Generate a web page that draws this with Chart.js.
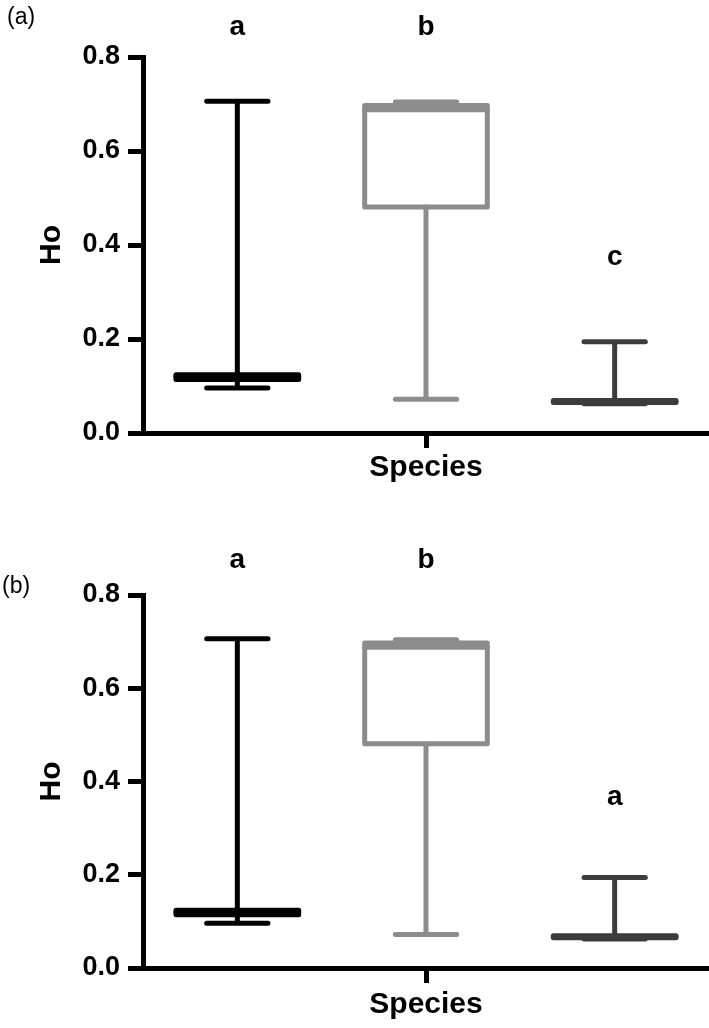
<!DOCTYPE html>
<html>
<head>
<meta charset="utf-8">
<script src="https://cdn.jsdelivr.net/npm/chart.js@4.4.1/dist/chart.umd.min.js"></script>
<style>
  html, body { margin: 0; padding: 0; background: #fff; }
  #wrap { position: relative; width: 709px; height: 1028px; }
  canvas { position: absolute; left: 0; }
</style>
</head>
<body>
<div id="wrap">
  <canvas id="chartA" width="709" height="500" style="top:0"></canvas>
  <canvas id="chartB" width="709" height="528" style="top:500px"></canvas>
</div>
<script>
// box plot values (same for both panels)
var species = ['Species 1', 'Species 2', 'Species 3'];
var minVals = [0.096, 0.072, 0.062];
var q1Vals = [0.114, 0.481, 0.065];
var medVals = [0.120, 0.688, 0.067];
var q3Vals = [0.124, 0.697, 0.069];
var maxVals = [0.706, 0.704, 0.194];
var yTicks = [0, 0.2, 0.4, 0.6, 0.8];

// significance letters and where they sit (in Ho units)
var lettersA = ['a', 'b', 'c'];
var letterPosA = [0.847, 0.847, 0.357];
var lettersB = ['a', 'b', 'a'];
var letterPosB = [0.858, 0.858, 0.350];

var boxColors = ['#000000', '#8c8c8c', '#3c3c3c'];
var FONT = '"Liberation Sans", Arial, Helvetica, sans-serif';

function boxPlugin(letters, letterPos, tag, tagX, tagY) {
    return {
        id: 'boxPlot',
        afterDatasetsDraw: function (chart) {
            var ctx = chart.ctx;
            var x = chart.scales.x;
            var y = chart.scales.y;
            var bars = chart.getDatasetMeta(0).data;
            ctx.save();
            ctx.lineWidth = 5;
            ctx.lineCap = 'round';
            ctx.lineJoin = 'round';
            bars.forEach(function (bar, i) {
                var half = bar.width / 2;
                var capHalf = half / 2;
                var yMin = y.getPixelForValue(minVals[i]);
                var yQ1 = y.getPixelForValue(q1Vals[i]);
                var yMed = y.getPixelForValue(medVals[i]);
                var yQ3 = y.getPixelForValue(q3Vals[i]);
                var yMax = y.getPixelForValue(maxVals[i]);
                ctx.strokeStyle = boxColors[i];
                // whiskers + caps
                ctx.beginPath();
                ctx.moveTo(bar.x, yQ3); ctx.lineTo(bar.x, yMax);
                ctx.moveTo(bar.x - capHalf, yMax); ctx.lineTo(bar.x + capHalf, yMax);
                ctx.moveTo(bar.x, yQ1); ctx.lineTo(bar.x, yMin);
                ctx.moveTo(bar.x - capHalf, yMin); ctx.lineTo(bar.x + capHalf, yMin);
                ctx.stroke();
                // box
                ctx.strokeRect(bar.x - half, yQ3, half * 2, yQ1 - yQ3);
                // median
                ctx.beginPath();
                ctx.moveTo(bar.x - half, yMed); ctx.lineTo(bar.x + half, yMed);
                ctx.stroke();
            });
            // letters above the boxes
            ctx.fillStyle = '#000';
            ctx.textAlign = 'center';
            ctx.textBaseline = 'alphabetic';
            ctx.font = 'bold 28px ' + FONT;
            letters.forEach(function (l, i) {
                ctx.fillText(l, x.getPixelForValue(i), y.getPixelForValue(letterPos[i]));
            });
            // panel tag
            ctx.textAlign = 'left';
            ctx.font = '23px ' + FONT;
            ctx.fillText(tag, tagX, tagY);
            ctx.restore();
        }
    };
}

function buildPanel(canvasId, letters, letterPos, tag, tagX, tagY, topPad, xAxisHeight, titlePad) {
    var ctx = document.getElementById(canvasId).getContext('2d');
    return new Chart(ctx, {
        type: 'bar',
        data: {
            labels: species,
            datasets: [{
                data: species.map(function (s, i) { return [q1Vals[i], q3Vals[i]]; }),
                backgroundColor: '#ffffff',
                borderWidth: 0,
                barPercentage: 0.65,
                categoryPercentage: 1
            }]
        },
        options: {
            responsive: false,
            animation: false,
            events: [],
            layout: { padding: { top: topPad, right: 0, bottom: 0, left: 0 } },
            plugins: { legend: { display: false }, tooltip: { enabled: false } },
            scales: {
                x: {
                    offset: true,
                    grid: {
                        offset: false,
                        drawOnChartArea: false,
                        tickLength: 15,
                        tickWidth: 5,
                        tickColor: function (c) { return c.index === 1 ? '#000' : 'rgba(0,0,0,0)'; }
                    },
                    border: { display: true, color: '#000', width: 5 },
                    ticks: { display: false },
                    title: {
                        display: true, text: 'Species', color: '#000',
                        font: { family: FONT, size: 30, weight: 'bold' },
                        padding: { top: 0, bottom: titlePad }
                    },
                    afterFit: function (s) { s.height = xAxisHeight; }
                },
                y: {
                    min: 0,
                    max: 0.8,
                    afterBuildTicks: function (s) {
                        s.ticks = yTicks.map(function (v) { return { value: v }; });
                    },
                    ticks: {
                        color: '#000',
                        padding: 8,
                        font: { family: FONT, size: 27, weight: 'bold' },
                        callback: function (v) { return Number(v).toFixed(1); }
                    },
                    grid: { drawOnChartArea: false, tickLength: 15, tickWidth: 5, tickColor: '#000' },
                    border: { display: true, color: '#000', width: 5 },
                    title: {
                        display: true, text: 'Ho', color: '#000',
                        font: { family: FONT, size: 30, weight: 'bold' },
                        padding: { top: 34, bottom: 0 }
                    },
                    afterFit: function (s) { s.width = 143; }
                }
            }
        },
        plugins: [boxPlugin(letters, letterPos, tag, tagX, tagY)]
    });
}

var chartA = buildPanel('chartA', lettersA, letterPosA, '(a)', 7, 24, 57, 67, 14);
var chartB = buildPanel('chartB', lettersB, letterPosB, '(b)', 2, 93, 95, 60, 5);
</script>
</body>
</html>
